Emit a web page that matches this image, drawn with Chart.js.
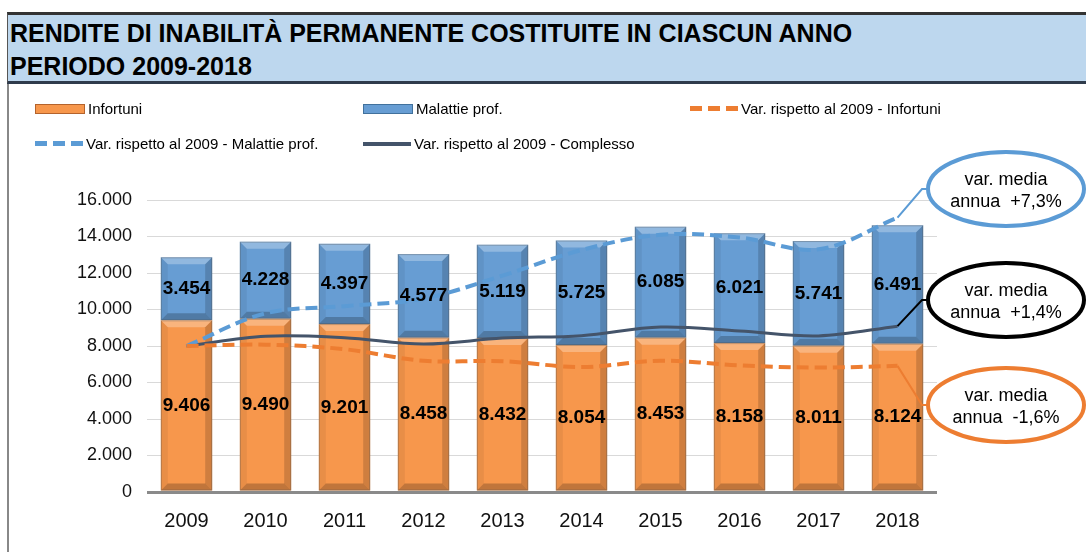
<!DOCTYPE html>
<html>
<head>
<meta charset="utf-8">
<script src="https://cdn.jsdelivr.net/npm/chart.js@4"></script>
<style>
  body { margin: 0; background: #fff; font-family: "Liberation Sans", Arial, sans-serif; }
  #wrap { position: relative; width: 1086px; height: 552px; overflow: hidden; }
  #title {
    position: absolute; left: 7px; top: 12px; width: 1079px; height: 66px;
    background: #BDD7EE; border-top: 3px solid #333; border-bottom: 3px solid #2f3b4c;
    border-left: 1px solid #555; box-sizing: content-box;
    font-weight: bold; font-size: 25px; line-height: 33px; color: #000; padding-left: 2px;
  }
  #title span { display: block; position: relative; top: 2px; }
  #frame { position: absolute; left: 7px; top: 84px; width: 0; height: 470px; border-left: 2px solid #888; }
  .lg { position: absolute; font-size: 15px; color: #000; display: flex; align-items: center; white-space: nowrap; }
  .sw { width: 48px; margin-right: 3px; }
  canvas { position: absolute; left: 0; top: 0; }
</style>
</head>
<body>
<div id="wrap">
  <canvas id="myChart" width="1086" height="552"></canvas>
  <div id="title"><span>RENDITE DI INABILITÀ PERMANENTE COSTITUITE IN CIASCUN ANNO</span><span>PERIODO 2009-2018</span></div>
  <div id="frame"></div>
  <div class="lg" style="left:35px;top:100px"><span class="sw" style="height:8px;background:#F7974C;border:1px solid #B4632C"></span>Infortuni</div>
  <div class="lg" style="left:363px;top:100px"><span class="sw" style="height:8px;background:#679DD3;border:1px solid #41719C"></span>Malattie prof.</div>
  <div class="lg" style="left:690px;top:100px"><span class="sw" style="height:5px;background:repeating-linear-gradient(90deg,#ED7D31 0 12px,transparent 12px 18px)"></span>Var. rispetto al 2009 - Infortuni</div>
  <div class="lg" style="left:35px;top:135px"><span class="sw" style="height:5px;background:repeating-linear-gradient(90deg,#5B9BD5 0 12px,transparent 12px 18px)"></span>Var. rispetto al 2009 - Malattie prof.</div>
  <div class="lg" style="left:363px;top:135px"><span class="sw" style="height:4px;background:#44546A"></span>Var. rispetto al 2009 - Complesso</div>
</div>
<script>
const years = ['2009', '2010', '2011', '2012', '2013', '2014', '2015', '2016', '2017', '2018'];
const infortuni = [9406, 9490, 9201, 8458, 8432, 8054, 8453, 8158, 8011, 8124];
const malattie = [3454, 4228, 4397, 4577, 5119, 5725, 6085, 6021, 5741, 6491];
// variazione % rispetto al 2009
const varInfortuni = [0, 0.9, -2.2, -10.1, -10.4, -14.4, -10.1, -13.3, -14.8, -13.6];
const varMalattie = [0, 22.4, 27.3, 32.5, 48.2, 65.7, 76.2, 74.3, 66.2, 87.9];
const varComplesso = [0, 6.7, 5.7, 1.4, 5.4, 7.1, 13.0, 10.3, 6.9, 13.6];
const yTicks = [0, 2000, 4000, 6000, 8000, 10000, 12000, 14000, 16000];
const mediaLabels = ['annua  +7,3%', 'annua  +1,4%', 'annua  -1,6%'];

const fmt = v => v.toString().replace(/\B(?=(\d{3})+(?!\d))/g, '.');

// bevel look of the excel bars
const bevelPlugin = {
    id: 'bevel',
    afterDatasetDraw(chart, args) {
        if (args.meta.type !== 'bar') return;
        const ctx = chart.ctx;
        args.meta.data.forEach(el => {
            const l = el.x - el.width / 2, r = el.x + el.width / 2;
            const t = Math.min(el.y, el.base), b = Math.max(el.y, el.base);
            const d = 7;
            ctx.save();
            ctx.fillStyle = 'rgba(255,255,255,0.28)';
            ctx.beginPath(); ctx.moveTo(l, t); ctx.lineTo(r, t); ctx.lineTo(r - d, t + d); ctx.lineTo(l + d, t + d); ctx.fill();
            ctx.fillStyle = 'rgba(0,0,0,0.22)';
            ctx.beginPath(); ctx.moveTo(l, b); ctx.lineTo(r, b); ctx.lineTo(r - d, b - d); ctx.lineTo(l + d, b - d); ctx.fill();
            ctx.fillStyle = 'rgba(0,0,0,0.06)';
            ctx.beginPath(); ctx.moveTo(l, t); ctx.lineTo(l + d, t + d); ctx.lineTo(l + d, b - d); ctx.lineTo(l, b); ctx.fill();
            ctx.fillStyle = 'rgba(0,0,0,0.16)';
            ctx.beginPath(); ctx.moveTo(r, t); ctx.lineTo(r - d, t + d); ctx.lineTo(r - d, b - d); ctx.lineTo(r, b); ctx.fill();
            ctx.strokeStyle = 'rgba(80,80,80,0.35)';
            ctx.lineWidth = 1;
            ctx.strokeRect(l + 0.5, t + 0.5, el.width - 1, b - t - 1);
            ctx.restore();
        });
    }
};

const labelPlugin = {
    id: 'barLabels',
    afterDatasetsDraw(chart) {
        const ctx = chart.ctx;
        ctx.save();
        ctx.font = 'bold 19px "Liberation Sans", Arial, sans-serif';
        ctx.fillStyle = '#000';
        ctx.textAlign = 'center';
        ctx.textBaseline = 'middle';
        [0, 1].forEach(i => {
            const meta = chart.getDatasetMeta(i);
            meta.data.forEach((el, j) => {
                ctx.fillText(fmt(chart.data.datasets[i].data[j]), el.x, (el.y + el.base) / 2);
            });
        });
        ctx.restore();
    }
};

// callouts with average annual change
const calloutPlugin = {
    id: 'callouts',
    afterDraw(chart) {
        const ctx = chart.ctx;
        const spec = [
            { ds: 3, cx: 1006, cy: 189, color: '#5B9BD5' },
            { ds: 4, cx: 1006, cy: 300, color: '#000000' },
            { ds: 2, cx: 1006, cy: 405, color: '#ED7D31' }
        ];
        const rx = 78, ry = 37;
        spec.forEach((s, k) => {
            const meta = chart.getDatasetMeta(s.ds);
            const p = meta.data[meta.data.length - 1];
            ctx.save();
            ctx.strokeStyle = s.color;
            ctx.lineWidth = 2;
            ctx.beginPath();
            ctx.moveTo(p.x, p.y);
            ctx.lineTo(922, s.cy);
            ctx.lineTo(s.cx - rx, s.cy);
            ctx.stroke();
            ctx.fillStyle = '#fff';
            ctx.lineWidth = 4;
            ctx.beginPath();
            ctx.ellipse(s.cx, s.cy, rx, ry, 0, 0, Math.PI * 2);
            ctx.fill();
            ctx.stroke();
            ctx.fillStyle = '#000';
            ctx.font = '18px "Liberation Sans", Arial, sans-serif';
            ctx.textAlign = 'center';
            ctx.textBaseline = 'middle';
            ctx.fillText('var. media', s.cx, s.cy - 9);
            ctx.fillText(mediaLabels[k], s.cx, s.cy + 13);
            ctx.restore();
        });
    }
};

const ctx = document.getElementById('myChart');
new Chart(ctx, {
    type: 'bar',
    data: {
        labels: years,
        datasets: [
            { label: 'Infortuni', data: infortuni, backgroundColor: '#F7974C', stack: 's', order: 2, barPercentage: 0.65, categoryPercentage: 1 },
            { label: 'Malattie prof.', data: malattie, backgroundColor: '#679DD3', stack: 's', order: 2, barPercentage: 0.65, categoryPercentage: 1 },
            { type: 'line', label: 'Var. rispetto al 2009 - Infortuni', data: varInfortuni, yAxisID: 'y2', borderColor: '#ED7D31', borderWidth: 4, borderDash: [12, 6], pointRadius: 0, tension: 0.35, order: 1 },
            { type: 'line', label: 'Var. rispetto al 2009 - Malattie prof.', data: varMalattie, yAxisID: 'y2', borderColor: '#5B9BD5', borderWidth: 4, borderDash: [12, 6], pointRadius: 0, tension: 0.35, order: 1 },
            { type: 'line', label: 'Var. rispetto al 2009 - Complesso', data: varComplesso, yAxisID: 'y2', borderColor: '#44546A', borderWidth: 3, pointRadius: 0, tension: 0.35, order: 1 }
        ]
    },
    options: {
        responsive: false,
        animation: false,
        layout: { padding: { left: 0, right: 149, top: 200, bottom: 10 } },
        plugins: { legend: { display: false }, tooltip: { enabled: false } },
        scales: {
            x: {
                stacked: true,
                grid: { display: false },
                border: { display: false },
                ticks: { color: '#111', padding: 9, font: { size: 20, family: '"Liberation Sans", Arial, sans-serif' } }
            },
            y: {
                stacked: true,
                min: 0,
                max: 16000,
                afterFit: s => { s.width = 147; },
                afterBuildTicks: s => { s.ticks = yTicks.map(v => ({ value: v })); },
                border: { display: false },
                grid: {
                    drawTicks: false,
                    color: c => c.tick && c.tick.value === 0 ? '#8a8a8a' : '#d9d9d9',
                    lineWidth: c => c.tick && c.tick.value === 0 ? 3 : 1
                },
                ticks: { color: '#111', padding: 15, font: { size: 18, family: '"Liberation Sans", Arial, sans-serif' }, callback: v => fmt(v) }
            },
            y2: { display: false, min: -100, max: 100 }
        }
    },
    plugins: [bevelPlugin, labelPlugin, calloutPlugin]
});
</script>
</body>
</html>
